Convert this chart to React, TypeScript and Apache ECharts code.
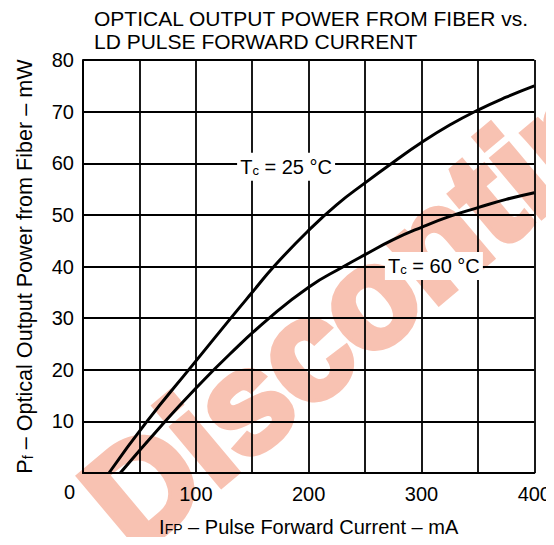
import React, { useEffect, useRef } from "react";
import * as echarts from "echarts";

const currents25 = [23, 56, 96, 131, 150, 170, 200, 225, 250, 275, 300, 325, 350, 375, 400];
const power25 = [0, 9.8, 20.6, 30, 35, 40.2, 47, 52, 56.2, 60.2, 64, 67.4, 70.3, 72.8, 75];

const currents60 = [33, 70, 100, 130, 165, 200, 231, 250, 275, 300, 325, 350, 375, 400];
const power60 = [0, 9.3, 16.4, 23, 30, 36, 40, 42.3, 45.2, 47.6, 49.7, 51.4, 53, 54.3];

const xTicks = [0, 100, 200, 300, 400];
const yTicks = [10, 20, 30, 40, 50, 60, 70, 80];

const label25 = { text: "T{s|c} = 25 °C", at: [180, 59.3] };
const label60 = { text: "T{s|c} = 60 °C", at: [311, 40.1] };

const FONT = "Liberation Sans";

export default function App() {
  const ref = useRef<HTMLDivElement>(null);
  useEffect(() => {
    if (!ref.current) return;
    const chart = echarts.init(ref.current, undefined, { renderer: "svg" });
    const mk = (lbl: { text: string; at: number[] }) => ({
      silent: true,
      symbol: "rect",
      symbolSize: [98, 28],
      itemStyle: { color: "#fff" },
      label: {
        show: true,
        position: "inside",
        formatter: lbl.text,
        color: "#000",
        fontFamily: FONT,
        fontSize: 20,
        rich: { s: { fontSize: 13, fontFamily: FONT, color: "#000", padding: [7, 0, 0, 0] } },
      },
      data: [{ coord: lbl.at }],
    });
    chart.setOption({
      animation: false,
      backgroundColor: "#fff",
      title: {
        text: "OPTICAL OUTPUT POWER FROM FIBER vs.\nLD PULSE FORWARD CURRENT",
        left: 89,
        top: 2,
        textStyle: { fontFamily: FONT, fontSize: 21, fontWeight: "normal", color: "#000", lineHeight: 23 },
      },
      grid: { left: 83, right: 18, top: 60, bottom: 72 },
      xAxis: {
        type: "value",
        min: 0,
        max: 400,
        interval: 50,
        name: "I{s|FP} – Pulse Forward Current – mA",
        nameLocation: "middle",
        nameGap: 44,
        nameTextStyle: {
          fontFamily: FONT,
          fontSize: 20,
          color: "#000",
          rich: { s: { fontFamily: FONT, fontSize: 14, color: "#000", padding: [3, 0, 0, 0] } },
        },
        axisLine: { show: true, lineStyle: { color: "#000", width: 2 } },
        axisTick: { show: false },
        splitLine: { show: true, lineStyle: { color: "#000", width: 1.8 } },
        axisLabel: {
          color: "#000",
          fontFamily: FONT,
          fontSize: 20,
          margin: 11,
          formatter: (v: number) => (v !== 0 && xTicks.includes(v) ? String(v) : ""),
        },
      },
      yAxis: {
        type: "value",
        min: 0,
        max: 80,
        interval: 10,
        name: "P{s|f} – Optical Output Power from Fiber – mW",
        nameLocation: "middle",
        nameGap: 48,
        nameTextStyle: {
          fontFamily: FONT,
          fontSize: 21.6,
          color: "#000",
          rich: { s: { fontFamily: FONT, fontSize: 14, color: "#000", padding: [7, 0, 0, 0] } },
        },
        axisLine: { show: true, lineStyle: { color: "#000", width: 2 } },
        axisTick: { show: false },
        splitLine: { show: true, lineStyle: { color: "#000", width: 1.8 } },
        axisLabel: {
          color: "#000",
          fontFamily: FONT,
          fontSize: 20,
          margin: 9,
          formatter: (v: number) => (yTicks.includes(v) ? String(v) : ""),
        },
      },
      graphic: [
        {
          type: "text",
          left: 64,
          top: 482,
          style: { text: "0", fontFamily: FONT, fontSize: 20, fill: "#000" },
        },
        {
          type: "text",
          x: 448,
          y: 230,
          rotation: (40 * Math.PI) / 180,
          z: -10,
          silent: true,
          style: {
            text: "Discontinued",
            font: `bold 142px "${FONT}"`,
            fill: "#f8c2b2",
            stroke: "#f8c2b2",
            lineWidth: 7,
            lineJoin: "round",
            align: "center",
            verticalAlign: "middle",
          },
        },
      ],
      series: [
        {
          type: "line",
          data: currents25.map((c, i) => [c, power25[i]]),
          smooth: 0.5,
          symbol: "none",
          lineStyle: { color: "#000", width: 3 },
          markPoint: mk(label25),
          z: 3,
        },
        {
          type: "line",
          data: currents60.map((c, i) => [c, power60[i]]),
          smooth: 0.5,
          symbol: "none",
          lineStyle: { color: "#000", width: 3 },
          markPoint: mk(label60),
          z: 3,
        },
      ],
    });
    return () => chart.dispose();
  }, []);
  return <div ref={ref} style={{ width: 554, height: 545, margin: -8 }} />;
}
